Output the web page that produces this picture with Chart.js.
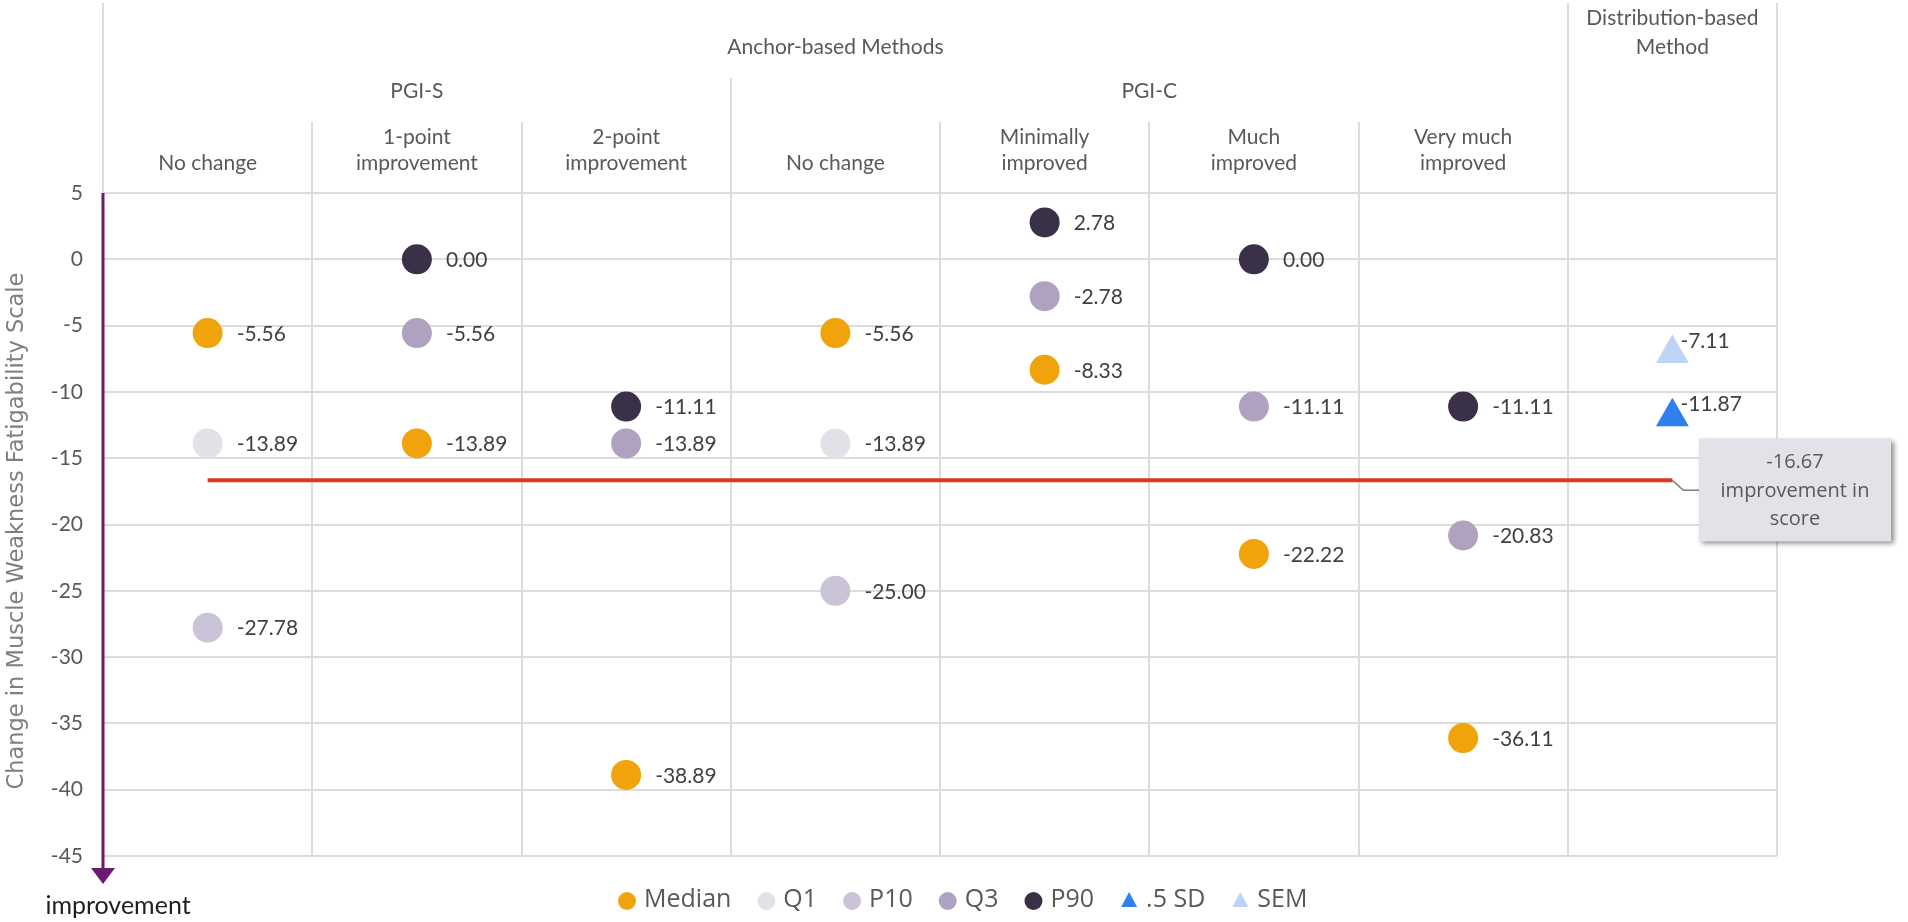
<!DOCTYPE html>
<html><head><meta charset="utf-8">
<script src="https://cdn.jsdelivr.net/npm/chart.js@4.4.1/dist/chart.umd.min.js"></script>
<style>html,body{margin:0;padding:0;background:#fff;overflow:hidden;} #wrap{width:1908px;height:922px;}</style>
</head><body><div id="wrap"><canvas id="c" width="1908" height="922"></canvas></div>
<script>
// ---- data ----
const categories = ['No change', '1-point\nimprovement', '2-point\nimprovement', 'No change', 'Minimally\nimproved', 'Much\nimproved', 'Very much\nimproved', ''];
const subGroups = [{label: 'PGI-S', start: 0, end: 3}, {label: 'PGI-C', start: 3, end: 7}];
const topGroups = [{label: 'Anchor-based Methods', start: 0, end: 7}, {label: 'Distribution-based\nMethod', start: 7, end: 8}];
const medianValues = [-5.56, -13.89, -38.89, -5.56, -8.33, -22.22, -36.11, null];
const q1Values     = [-13.89, null, null, -13.89, null, null, null, null];
const p10Values    = [-27.78, null, null, -25.00, null, null, null, null];
const q3Values     = [null, -5.56, -13.89, null, -2.78, -11.11, -20.83, null];
const p90Values    = [null, 0.00, -11.11, null, 2.78, 0.00, -11.11, null];
const halfSdValues = [null, null, null, null, null, null, null, -11.87];
const semValues    = [null, null, null, null, null, null, null, -7.11];
const thresholdValue = -16.67;
const thresholdText = ['improvement in', 'score'];
const yMin = -45, yMax = 5, yStep = 5;
const yTitle = 'Change in Muscle Weakness Fatigability Scale';
const arrowLabel = 'improvement';

function pts(arr) {
  const out = [];
  arr.forEach((v, i) => { if (v !== null) out.push({x: i + 0.5, y: v}); });
  return out;
}
function ds(label, arr, color, style, r) {
  return {label, data: pts(arr), backgroundColor: color, borderColor: color, borderWidth: 0,
    pointStyle: style, pointRadius: r, pointHoverRadius: r, showLine: false};
}

const datasets = [
  ds('Median', medianValues, '#F0A30A', 'circle', 15),
  ds('Q1', q1Values, '#E3E1E8', 'circle', 15),
  ds('P10', p10Values, '#CBC3D7', 'circle', 15),
  ds('Q3', q3Values, '#AFA1C0', 'circle', 15),
  ds('P90', p90Values, '#3A3148', 'circle', 15),
  ds('.5 SD', halfSdValues, '#2F80EE', 'triangle', 19),
  ds('SEM', semValues, '#BCD5F6', 'triangle', 19),
  {label: 'threshold', isThreshold: true, data: [{x: 0.5, y: thresholdValue}, {x: categories.length - 0.5, y: thresholdValue}],
   showLine: true, borderColor: '#D9381E', borderWidth: 4, pointRadius: 0, pointHoverRadius: 0, fill: false}
];

const GRID = '#DCDCDC';

const labelPlugin = {
  id: 'pointLabels',
  afterDatasetsDraw(chart) {
    const ctx = chart.ctx;
    ctx.save();
    ctx.font = '21px Lato';
    ctx.fillStyle = '#404040';
    ctx.textAlign = 'left';
    ctx.textBaseline = 'middle';
    chart.data.datasets.forEach((d, i) => {
      if (d.isThreshold) return;
      const meta = chart.getDatasetMeta(i);
      meta.data.forEach((el, j) => {
        const v = d.data[j].y;
        const t = v.toFixed(2);
        if (d.pointStyle === 'triangle') ctx.fillText(t, el.x + 8, el.y - 12);
        else ctx.fillText(t, el.x + 29, el.y + 1);
      });
    });
    ctx.restore();
  }
};

const decorPlugin = {
  id: 'decor',
  afterDraw(chart) {
    const ctx = chart.ctx;
    const xs = chart.scales.x, ys = chart.scales.y;
    const top = chart.chartArea.top;
    ctx.save();
    // header vertical lines
    const topB = new Set(), subB = new Set();
    topGroups.forEach(g => { topB.add(g.start); topB.add(g.end); });
    subGroups.forEach(g => { subB.add(g.start); subB.add(g.end); });
    ctx.strokeStyle = GRID; ctx.lineWidth = 2;
    for (let i = 0; i <= categories.length; i++) {
      const x = Math.round(xs.getPixelForValue(i));
      let y0 = 122;
      if (topB.has(i)) y0 = 3; else if (subB.has(i)) y0 = 78;
      ctx.beginPath(); ctx.moveTo(x, y0); ctx.lineTo(x, top); ctx.stroke();
    }
    // header texts
    ctx.fillStyle = '#595959';
    ctx.textAlign = 'center'; ctx.textBaseline = 'middle';
    ctx.font = '21px Lato';
    categories.forEach((c, i) => {
      if (!c) return;
      const lines = c.split('\n');
      const cx = xs.getPixelForValue(i + 0.5);
      lines.forEach((l, k) => ctx.fillText(l, cx, 163 - (lines.length - 1 - k) * 26));
    });
    subGroups.forEach(g => {
      const cx = (xs.getPixelForValue(g.start) + xs.getPixelForValue(g.end)) / 2;
      ctx.fillText(g.label, cx, 91);
    });
    topGroups.forEach(g => {
      const lines = g.label.split('\n');
      const cx = (xs.getPixelForValue(g.start) + xs.getPixelForValue(g.end)) / 2;
      lines.forEach((l, k) => ctx.fillText(l, cx, 47 - (lines.length - 1 - k) * 29));
    });
    // y title, fitted to the reference length
    ctx.save();
    ctx.font = '24px "DejaVu Sans"';
    const w = ctx.measureText(yTitle).width;
    const fs = Math.max(12, 24 * 518 / w);
    ctx.font = fs.toFixed(1) + 'px "DejaVu Sans"';
    ctx.translate(17, 531);
    ctx.rotate(-Math.PI / 2);
    ctx.textAlign = 'center';
    ctx.fillStyle = '#7F7F7F';
    ctx.fillText(yTitle, 0, 0);
    ctx.restore();
    // purple arrow along y axis
    const ax = xs.getPixelForValue(0);
    ctx.strokeStyle = '#6A1B6E'; ctx.fillStyle = '#6A1B6E'; ctx.lineWidth = 3;
    ctx.beginPath(); ctx.moveTo(ax, top); ctx.lineTo(ax, 870); ctx.stroke();
    ctx.beginPath(); ctx.moveTo(ax - 12, 868); ctx.lineTo(ax + 12, 868); ctx.lineTo(ax, 884); ctx.closePath(); ctx.fill();
    ctx.fillStyle = '#1F1F1F'; ctx.font = '25px Lato';
    ctx.fillText(arrowLabel, 118, 906);
    // threshold callout
    const yT = ys.getPixelForValue(thresholdValue);
    const xEnd = xs.getPixelForValue(categories.length - 0.5);
    ctx.strokeStyle = '#7F7F7F'; ctx.lineWidth = 1.5;
    ctx.beginPath(); ctx.moveTo(xEnd, yT); ctx.lineTo(xEnd + 11, yT + 10); ctx.lineTo(1699, yT + 10); ctx.stroke();
    ctx.save();
    ctx.shadowColor = 'rgba(0,0,0,0.45)'; ctx.shadowOffsetX = 3; ctx.shadowOffsetY = 3; ctx.shadowBlur = 5;
    ctx.fillStyle = '#E4E2E8';
    ctx.fillRect(1699, yT - 42, 192, 103);
    ctx.restore();
    ctx.fillStyle = '#595959'; ctx.font = '20px "Open Sans"';
    const lines = [thresholdValue.toFixed(2)].concat(thresholdText);
    lines.forEach((l, k) => ctx.fillText(l, 1795, yT - 18 + k * 28.5));
    // legend
    ctx.font = '25px "Open Sans"';
    ctx.textAlign = 'left';
    let lx = 618; const ly = 900;
    chart.data.datasets.forEach(d => {
      if (d.isThreshold) return;
      ctx.fillStyle = d.backgroundColor;
      if (d.pointStyle === 'triangle') {
        ctx.beginPath(); ctx.moveTo(lx + 9, ly - 8); ctx.lineTo(lx + 17, ly + 7); ctx.lineTo(lx + 1, ly + 7); ctx.closePath(); ctx.fill();
      } else {
        ctx.beginPath(); ctx.arc(lx + 9, ly + 1, 9, 0, Math.PI * 2); ctx.fill();
      }
      lx += 18 + 8;
      ctx.fillStyle = '#595959';
      ctx.fillText(d.label, lx, ly);
      lx += ctx.measureText(d.label).width + 26;
    });
    ctx.restore();
  }
};

new Chart(document.getElementById('c'), {
  type: 'scatter',
  data: {datasets},
  options: {
    responsive: false, animation: false, devicePixelRatio: 1,
    layout: {padding: {top: 193, right: 131, bottom: 66, left: 0}},
    plugins: {legend: {display: false}, tooltip: {enabled: false}},
    events: [],
    scales: {
      x: {type: 'linear', min: 0, max: categories.length,
        ticks: {display: false, stepSize: 1},
        grid: {color: GRID, lineWidth: 2, drawTicks: false},
        border: {display: false},
        afterFit(s) { s.height = 0; }},
      y: {min: yMin, max: yMax,
        ticks: {stepSize: yStep, padding: 20, color: '#595959', font: {family: 'Lato', size: 21}},
        grid: {color: GRID, lineWidth: 2, drawTicks: false},
        border: {display: false},
        afterFit(s) { s.width = 103; }}
    }
  },
  plugins: [labelPlugin, decorPlugin]
});
</script></body></html>
